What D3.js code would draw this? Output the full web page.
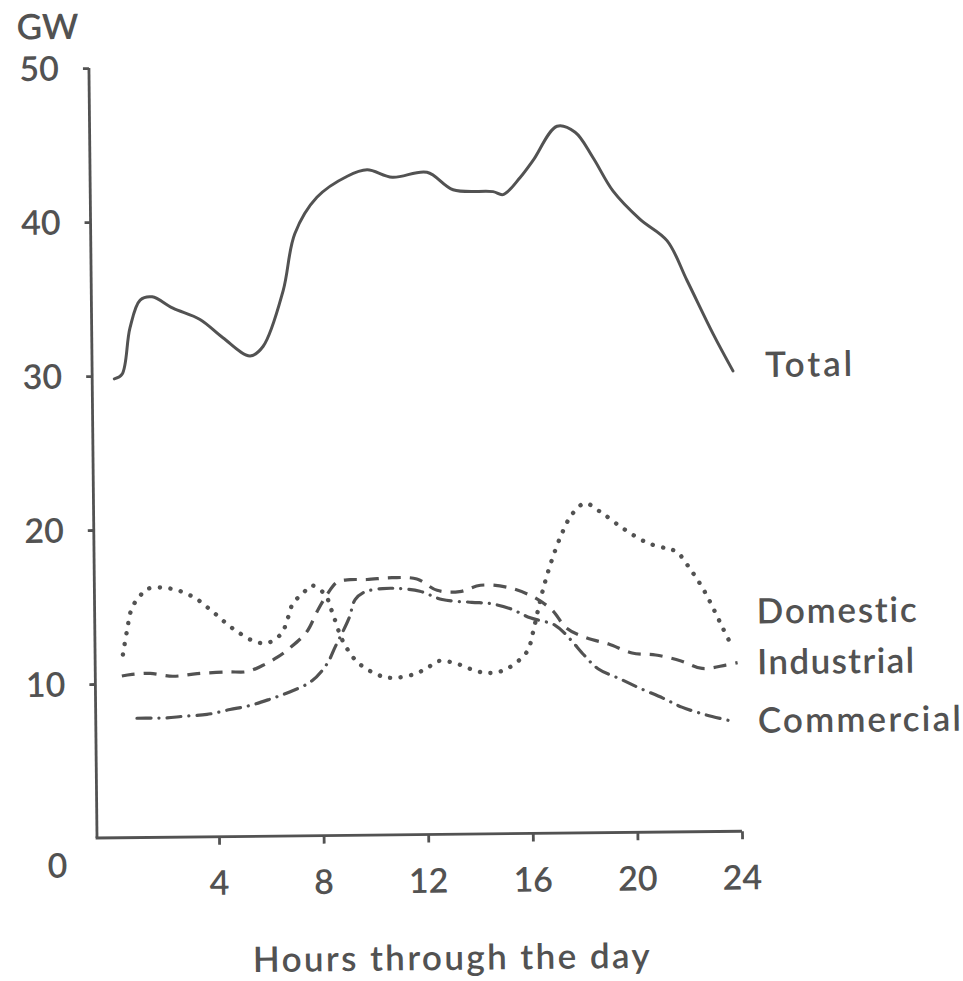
<!DOCTYPE html>
<html><head><meta charset="utf-8">
<script src="https://cdn.jsdelivr.net/npm/d3@7"></script>
<style>body{margin:0;background:#fff}svg{display:block}text{font-variant-ligatures:none;font-feature-settings:"liga" 0,"clig" 0}</style>
</head><body>
<svg id="chart" width="963" height="981"></svg>
<script>
// ---- data ----
const xTicks = [4, 8, 12, 16, 20, 24];
const yTicks = [0, 10, 20, 30, 40, 50];
const seriesNames = ["Total", "Domestic", "Industrial", "Commercial"];

const totalHours = [0.18,0.48,0.8,1.2,1.66,2.45,3.48,4.35,5.38,5.88,6.67,7.14,8.0,9.17,9.93,10.89,12.22,13.21,14.74,15.12,15.78,16.28,17.21,17.9,18.57,19.33,20.35,21.37,22.12,23.1,23.84];
const totalGW    = [29.8,30.1,33.1,34.9,35.1,34.35,33.6,32.4,31.2,31.8,35.4,39.1,41.45,42.8,43.2,42.7,43.0,41.85,41.7,41.5,42.6,43.7,45.9,45.5,43.85,41.65,39.8,38.4,35.8,32.3,29.9];

const domesticHours = [0.4,0.56,0.76,1.08,1.38,2.23,3.1,3.86,4.62,5.53,6.03,6.49,6.73,6.92,7.31,7.65,8.15,8.45,8.82,9.39,10.3,10.8,11.49,12.02,12.44,13.02,13.97,14.51,15.07,15.85,16.08,16.29,16.5,16.81,17.22,17.63,18.13,18.7,19.57,20.49,21.25,21.61,22.11,22.6,22.99,23.35,23.58];
const domesticGW    = [11.9,13.4,14.9,15.7,16.15,16.15,15.6,14.6,13.5,12.6,12.6,13.2,14.2,15.1,15.75,16.25,15.65,14.35,12.6,11.2,10.3,10.2,10.4,10.8,11.25,11.15,10.55,10.45,10.7,11.8,13.0,14.5,15.9,17.6,19.4,20.7,21.4,20.85,19.75,18.8,18.4,18.2,17.1,15.8,14.5,13.2,12.4];

const industrialHours = [0.35,0.74,1.43,2.3,3.23,4.37,5.14,5.75,6.29,6.78,7.44,7.84,8.23,8.62,9.12,9.76,10.72,11.67,12.44,13.3,14.1,15.13,16.07,16.82,17.38,18.15,18.98,19.87,20.77,21.74,22.54,23.45,23.9];
const industrialGW    = [10.5,10.6,10.65,10.45,10.6,10.7,10.7,11.1,11.6,12.2,13.25,14.55,15.65,16.45,16.6,16.6,16.7,16.6,15.85,15.75,16.15,16.0,15.4,14.5,13.3,12.65,12.25,11.65,11.5,11.1,10.6,10.8,10.95];

const commercialHours = [0.91,1.49,2.06,2.71,3.59,4.47,5.24,6.01,6.76,7.61,8.2,8.52,9.06,9.3,9.68,10.36,10.9,11.78,12.63,13.76,14.48,15.24,15.99,16.94,17.5,18.03,18.56,19.43,20.16,21.03,21.75,22.63,23.55];
const commercialGW    = [7.75,7.75,7.75,7.85,7.95,8.25,8.5,8.9,9.35,10.05,11.15,12.25,14.1,15.3,15.8,16.0,16.0,15.8,15.25,15.05,14.95,14.6,14.0,13.5,12.6,11.55,10.65,9.95,9.35,8.7,8.1,7.6,7.2];

const labelGW = [30.3, 14.3, 11.0, 7.2];

// ---- drawing ----
const ink = "#525252";
const font = "Lato, 'Open Sans', sans-serif";
const weight = 600;
const originX = 97, originY = 838;

const svg = d3.select("#chart");
const g = svg.append("g").attr("transform", `rotate(-0.6,${originX},${originY})`);

const x = d3.scaleLinear().domain([0, 24]).range([114.4, 742]);
const y = d3.scaleLinear().domain([0, 50]).range([originY, 68]);

// axis lines
g.append("line").attr("x1", originX).attr("x2", originX)
  .attr("y1", originY).attr("y2", y(50))
  .attr("stroke", ink).attr("stroke-width", 2.8);
g.append("line").attr("x1", originX - 1.4).attr("x2", x(24))
  .attr("y1", originY).attr("y2", originY)
  .attr("stroke", ink).attr("stroke-width", 2.8);

// y ticks
const yAx = g.append("g").attr("transform", `translate(${originX},0)`)
  .call(d3.axisLeft(y).tickValues(yTicks.filter(v => v > 0)).tickSize(6).tickSizeOuter(0).tickFormat(""));
yAx.select(".domain").remove();
yAx.selectAll(".tick line").attr("stroke", ink).attr("stroke-width", 2.8);

// x ticks
const xAx = g.append("g").attr("transform", `translate(0,${originY})`)
  .call(d3.axisBottom(x).tickValues(xTicks).tickSize(8).tickSizeOuter(0).tickFormat(""));
xAx.select(".domain").remove();
xAx.selectAll(".tick line").attr("stroke", ink).attr("stroke-width", 2.8);

// y tick labels
g.selectAll(".ylab").data(yTicks).join("text")
  .attr("class", "ylab")
  .attr("x", 67)
  .attr("y", d => d === 0 ? y(d) + 27 : y(d))
  .attr("dy", "0.36em")
  .attr("text-anchor", "end")
  .attr("font-family", font).attr("font-weight", weight).attr("font-size", 34).attr("fill", ink)
  .text(d => d);

// x tick labels
g.selectAll(".xlab").data(xTicks).join("text")
  .attr("class", "xlab")
  .attr("x", d => x(d))
  .attr("y", originY + 46)
  .attr("dy", "0.36em")
  .attr("text-anchor", "middle")
  .attr("font-family", font).attr("font-weight", weight).attr("font-size", 34).attr("fill", ink)
  .text(d => d);

// unit label
g.append("text").attr("x", 56).attr("y", 26).attr("dy", "0.36em")
  .attr("text-anchor", "middle")
  .attr("font-family", font).attr("font-weight", weight).attr("font-size", 35).attr("fill", ink)
  .text("GW");

// x axis title
g.append("text").attr("x", 450).attr("y", 961).attr("dy", "0.36em")
  .attr("text-anchor", "middle")
  .attr("font-family", font).attr("font-weight", weight).attr("font-size", 35).attr("fill", ink)
  .attr("textLength", 397).attr("lengthAdjust", "spacing")
  .text("Hours through the day");

// series
const series = [
  { name: seriesNames[0], hours: totalHours, gw: totalGW, dash: null, cap: "round", w: 3 },
  { name: seriesNames[1], hours: domesticHours, gw: domesticGW, dash: "0.1 10.5", cap: "round", w: 4.4 },
  { name: seriesNames[2], hours: industrialHours, gw: industrialGW, dash: "13 9", cap: "butt", w: 3.2 },
  { name: seriesNames[3], hours: commercialHours, gw: commercialGW, dash: "14 8 0.1 8", cap: "round", w: 3.2 }
];

const line = d3.line()
  .x(d => x(d[0])).y(d => y(d[1]))
  .curve(d3.curveCatmullRom.alpha(0.5));

series.forEach(s => {
  g.append("path")
    .datum(d3.zip(s.hours, s.gw))
    .attr("d", line)
    .attr("fill", "none")
    .attr("stroke", ink)
    .attr("stroke-width", s.w)
    .attr("stroke-linecap", s.cap)
    .attr("stroke-linejoin", "round")
    .attr("stroke-dasharray", s.dash);
});

// series labels
const labelWidths = [87, 160, 157, 203];
seriesNames.forEach((name, i) => {
  g.append("text")
    .attr("x", x(24) + (i === 0 ? 28 : 17))
    .attr("y", y(labelGW[i]))
    .attr("dy", "0.36em")
    .attr("font-family", font).attr("font-weight", weight).attr("font-size", 35).attr("fill", ink)
    .attr("textLength", labelWidths[i]).attr("lengthAdjust", "spacing")
    .text(name);
});
</script>
</body></html>
